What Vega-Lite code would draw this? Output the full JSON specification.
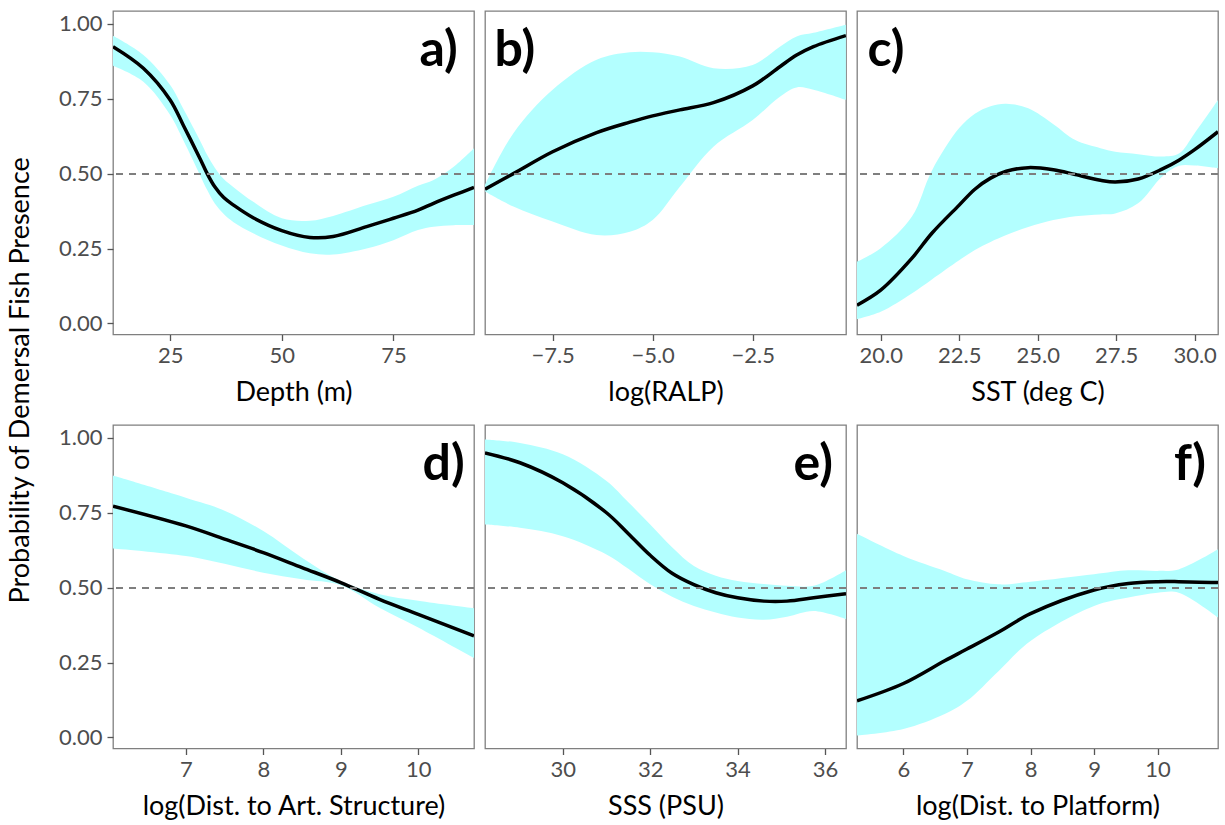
{
  "$schema": "https://vega.github.io/schema/vega-lite/v6.json",
  "background": "white",
  "padding": {"left": 5, "top": 10, "right": 5, "bottom": 5},
  "datasets": {
    "A": [
      {"x": 12.2, "lo": 0.860, "fit": 0.924, "hi": 0.960},
      {"x": 19.0, "lo": 0.807, "fit": 0.852, "hi": 0.896},
      {"x": 25.0, "lo": 0.696, "fit": 0.746, "hi": 0.796},
      {"x": 28.0, "lo": 0.610, "fit": 0.660, "hi": 0.715},
      {"x": 31.7, "lo": 0.495, "fit": 0.550, "hi": 0.610},
      {"x": 33.3, "lo": 0.445, "fit": 0.500, "hi": 0.562},
      {"x": 35.0, "lo": 0.400, "fit": 0.456, "hi": 0.520},
      {"x": 37.0, "lo": 0.365, "fit": 0.420, "hi": 0.482},
      {"x": 39.2, "lo": 0.338, "fit": 0.395, "hi": 0.455},
      {"x": 43.7, "lo": 0.300, "fit": 0.352, "hi": 0.405},
      {"x": 50.0, "lo": 0.260, "fit": 0.310, "hi": 0.351},
      {"x": 56.3, "lo": 0.234, "fit": 0.287, "hi": 0.343},
      {"x": 61.5, "lo": 0.230, "fit": 0.290, "hi": 0.359},
      {"x": 69.0, "lo": 0.250, "fit": 0.323, "hi": 0.395},
      {"x": 75.0, "lo": 0.278, "fit": 0.351, "hi": 0.423},
      {"x": 80.5, "lo": 0.312, "fit": 0.378, "hi": 0.460},
      {"x": 84.0, "lo": 0.323, "fit": 0.401, "hi": 0.479},
      {"x": 88.5, "lo": 0.328, "fit": 0.428, "hi": 0.523},
      {"x": 93.05, "lo": 0.328, "fit": 0.454, "hi": 0.585}
    ],
    "B": [
      {"x": -9.19, "lo": 0.440, "fit": 0.448, "hi": 0.462},
      {"x": -8.48, "lo": 0.390, "fit": 0.500, "hi": 0.635},
      {"x": -7.5, "lo": 0.340, "fit": 0.573, "hi": 0.780},
      {"x": -6.4, "lo": 0.295, "fit": 0.637, "hi": 0.880},
      {"x": -5.57, "lo": 0.306, "fit": 0.672, "hi": 0.905},
      {"x": -5.0, "lo": 0.345, "fit": 0.693, "hi": 0.905},
      {"x": -4.32, "lo": 0.456, "fit": 0.713, "hi": 0.891},
      {"x": -3.48, "lo": 0.590, "fit": 0.737, "hi": 0.852},
      {"x": -2.5, "lo": 0.679, "fit": 0.793, "hi": 0.863},
      {"x": -1.82, "lo": 0.757, "fit": 0.857, "hi": 0.924},
      {"x": -1.4, "lo": 0.788, "fit": 0.896, "hi": 0.958},
      {"x": -0.98, "lo": 0.780, "fit": 0.924, "hi": 0.970},
      {"x": -0.17, "lo": 0.746, "fit": 0.961, "hi": 0.997}
    ],
    "C": [
      {"x": 19.245, "lo": 0.014, "fit": 0.061, "hi": 0.206},
      {"x": 20.0, "lo": 0.039, "fit": 0.111, "hi": 0.251},
      {"x": 20.99, "lo": 0.100, "fit": 0.217, "hi": 0.356},
      {"x": 21.63, "lo": 0.147, "fit": 0.301, "hi": 0.510},
      {"x": 22.5, "lo": 0.211, "fit": 0.395, "hi": 0.652},
      {"x": 23.0, "lo": 0.245, "fit": 0.448, "hi": 0.700},
      {"x": 23.5, "lo": 0.272, "fit": 0.485, "hi": 0.725},
      {"x": 24.0, "lo": 0.295, "fit": 0.508, "hi": 0.733},
      {"x": 24.7, "lo": 0.322, "fit": 0.520, "hi": 0.718},
      {"x": 25.5, "lo": 0.345, "fit": 0.513, "hi": 0.665},
      {"x": 26.2, "lo": 0.358, "fit": 0.497, "hi": 0.612},
      {"x": 27.0, "lo": 0.364, "fit": 0.478, "hi": 0.585},
      {"x": 27.47, "lo": 0.367, "fit": 0.472, "hi": 0.573},
      {"x": 28.2, "lo": 0.401, "fit": 0.482, "hi": 0.565},
      {"x": 28.96, "lo": 0.490, "fit": 0.515, "hi": 0.557},
      {"x": 29.5, "lo": 0.526, "fit": 0.545, "hi": 0.567},
      {"x": 30.0, "lo": 0.527, "fit": 0.580, "hi": 0.635},
      {"x": 30.745, "lo": 0.518, "fit": 0.640, "hi": 0.746}
    ],
    "D": [
      {"x": 6.06, "lo": 0.631, "fit": 0.772, "hi": 0.874},
      {"x": 7.0, "lo": 0.606, "fit": 0.706, "hi": 0.800},
      {"x": 7.5, "lo": 0.580, "fit": 0.662, "hi": 0.757},
      {"x": 8.0, "lo": 0.550, "fit": 0.617, "hi": 0.689},
      {"x": 8.5, "lo": 0.528, "fit": 0.567, "hi": 0.600},
      {"x": 9.0, "lo": 0.508, "fit": 0.517, "hi": 0.522},
      {"x": 9.5, "lo": 0.433, "fit": 0.461, "hi": 0.478},
      {"x": 10.0, "lo": 0.367, "fit": 0.411, "hi": 0.456},
      {"x": 10.72, "lo": 0.265, "fit": 0.339, "hi": 0.431}
    ],
    "E": [
      {"x": 28.22, "lo": 0.711, "fit": 0.950, "hi": 0.995},
      {"x": 29.02, "lo": 0.700, "fit": 0.917, "hi": 0.983},
      {"x": 30.0, "lo": 0.672, "fit": 0.850, "hi": 0.945},
      {"x": 31.0, "lo": 0.611, "fit": 0.750, "hi": 0.856},
      {"x": 31.5, "lo": 0.563, "fit": 0.680, "hi": 0.785},
      {"x": 32.0, "lo": 0.511, "fit": 0.608, "hi": 0.711},
      {"x": 32.5, "lo": 0.470, "fit": 0.548, "hi": 0.635},
      {"x": 33.0, "lo": 0.439, "fit": 0.510, "hi": 0.572},
      {"x": 33.5, "lo": 0.417, "fit": 0.483, "hi": 0.540},
      {"x": 34.0, "lo": 0.400, "fit": 0.466, "hi": 0.522},
      {"x": 34.6, "lo": 0.393, "fit": 0.455, "hi": 0.512},
      {"x": 35.13, "lo": 0.403, "fit": 0.455, "hi": 0.506},
      {"x": 35.74, "lo": 0.422, "fit": 0.466, "hi": 0.506},
      {"x": 36.48, "lo": 0.395, "fit": 0.480, "hi": 0.558}
    ],
    "F": [
      {"x": 5.27, "lo": 0.006, "fit": 0.122, "hi": 0.680},
      {"x": 6.0, "lo": 0.028, "fit": 0.180, "hi": 0.606},
      {"x": 6.65, "lo": 0.078, "fit": 0.256, "hi": 0.556},
      {"x": 7.0, "lo": 0.122, "fit": 0.295, "hi": 0.528},
      {"x": 7.5, "lo": 0.222, "fit": 0.352, "hi": 0.511},
      {"x": 8.0, "lo": 0.322, "fit": 0.413, "hi": 0.520},
      {"x": 9.0, "lo": 0.439, "fit": 0.492, "hi": 0.545},
      {"x": 9.54, "lo": 0.467, "fit": 0.514, "hi": 0.558},
      {"x": 10.0, "lo": 0.483, "fit": 0.520, "hi": 0.556},
      {"x": 10.33, "lo": 0.483, "fit": 0.520, "hi": 0.561},
      {"x": 10.95, "lo": 0.400, "fit": 0.517, "hi": 0.628}
    ]
  },
  "columns": 3,
  "bounds": "flush",
  "spacing": {"row": 90, "column": 11},
  "concat": [
    {
      "width": 361, "height": 323.5,
      "data": {"name": "A"},
      "layer": [
        {"mark": {"type": "area", "color": "#b3ffff", "interpolate": "catmull-rom", "clip": true},
         "encoding": {
           "x": {"field": "x", "type": "quantitative", "scale": {"domain": [12.2, 93.05], "nice": false, "zero": false},
                 "axis": {"title": "Depth (m)", "values": [25, 50, 75], "format": "d"}},
           "y": {"field": "lo", "type": "quantitative", "scale": {"domain": [-0.037, 1.043], "nice": false, "zero": false},
                 "axis": {"title": "Probability of Demersal Fish Presence", "values": [0, 0.25, 0.5, 0.75, 1], "format": ".2f", "titleX": -79, "titleY": 368.8}},
           "y2": {"field": "hi"}}},
        {"mark": {"type": "line", "color": "black", "strokeWidth": 3.5, "interpolate": "catmull-rom", "clip": true},
         "encoding": {"x": {"field": "x", "type": "quantitative"}, "y": {"field": "fit", "type": "quantitative"}}},
        {"mark": {"type": "rule", "color": "#7f7f7f", "strokeWidth": 1.5, "strokeDash": [7, 6]},
         "encoding": {"y": {"datum": 0.5, "type": "quantitative"}}},
        {"data": {"values": [{"label": "a)"}]},
         "mark": {"type": "text", "font": "Lato", "fontSize": 50, "fontWeight": "bold", "align": "right", "baseline": "alphabetic", "color": "black"},
         "encoding": {"x": {"datum": 89.4, "type": "quantitative"}, "y": {"datum": 0.86, "type": "quantitative"}, "text": {"field": "label"}}}
      ]
    },
    {
      "width": 361, "height": 323.5,
      "data": {"name": "B"},
      "layer": [
        {"mark": {"type": "area", "color": "#b3ffff", "interpolate": "catmull-rom", "clip": true},
         "encoding": {
           "x": {"field": "x", "type": "quantitative", "scale": {"domain": [-9.19, -0.167], "nice": false, "zero": false},
                 "axis": {"title": "log(RALP)", "values": [-7.5, -5, -2.5], "format": ".1f"}},
           "y": {"field": "lo", "type": "quantitative", "scale": {"domain": [-0.037, 1.043], "nice": false, "zero": false}, "axis": null},
           "y2": {"field": "hi"}}},
        {"mark": {"type": "line", "color": "black", "strokeWidth": 3.5, "interpolate": "catmull-rom", "clip": true},
         "encoding": {"x": {"field": "x", "type": "quantitative"}, "y": {"field": "fit", "type": "quantitative"}}},
        {"mark": {"type": "rule", "color": "#7f7f7f", "strokeWidth": 1.5, "strokeDash": [7, 6]},
         "encoding": {"y": {"datum": 0.5, "type": "quantitative"}}},
        {"data": {"values": [{"label": "b)"}]},
         "mark": {"type": "text", "font": "Lato", "fontSize": 50, "fontWeight": "bold", "align": "left", "baseline": "alphabetic", "color": "black"},
         "encoding": {"x": {"datum": -8.95, "type": "quantitative"}, "y": {"datum": 0.86, "type": "quantitative"}, "text": {"field": "label"}}}
      ]
    },
    {
      "width": 361, "height": 323.5,
      "data": {"name": "C"},
      "layer": [
        {"mark": {"type": "area", "color": "#b3ffff", "interpolate": "catmull-rom", "clip": true},
         "encoding": {
           "x": {"field": "x", "type": "quantitative", "scale": {"domain": [19.245, 30.745], "nice": false, "zero": false},
                 "axis": {"title": "SST (deg C)", "values": [20, 22.5, 25, 27.5, 30], "format": ".1f"}},
           "y": {"field": "lo", "type": "quantitative", "scale": {"domain": [-0.037, 1.043], "nice": false, "zero": false}, "axis": null},
           "y2": {"field": "hi"}}},
        {"mark": {"type": "line", "color": "black", "strokeWidth": 3.5, "interpolate": "catmull-rom", "clip": true},
         "encoding": {"x": {"field": "x", "type": "quantitative"}, "y": {"field": "fit", "type": "quantitative"}}},
        {"mark": {"type": "rule", "color": "#7f7f7f", "strokeWidth": 1.5, "strokeDash": [7, 6]},
         "encoding": {"y": {"datum": 0.5, "type": "quantitative"}}},
        {"data": {"values": [{"label": "c)"}]},
         "mark": {"type": "text", "font": "Lato", "fontSize": 50, "fontWeight": "bold", "align": "left", "baseline": "alphabetic", "color": "black"},
         "encoding": {"x": {"datum": 19.58, "type": "quantitative"}, "y": {"datum": 0.86, "type": "quantitative"}, "text": {"field": "label"}}}
      ]
    },
    {
      "width": 361, "height": 323.5,
      "data": {"name": "D"},
      "layer": [
        {"mark": {"type": "area", "color": "#b3ffff", "interpolate": "catmull-rom", "clip": true},
         "encoding": {
           "x": {"field": "x", "type": "quantitative", "scale": {"domain": [6.06, 10.72], "nice": false, "zero": false},
                 "axis": {"title": "log(Dist. to Art. Structure)", "values": [7, 8, 9, 10], "format": "d"}},
           "y": {"field": "lo", "type": "quantitative", "scale": {"domain": [-0.037, 1.043], "nice": false, "zero": false},
                 "axis": {"title": null, "values": [0, 0.25, 0.5, 0.75, 1], "format": ".2f"}},
           "y2": {"field": "hi"}}},
        {"mark": {"type": "line", "color": "black", "strokeWidth": 3.5, "interpolate": "catmull-rom", "clip": true},
         "encoding": {"x": {"field": "x", "type": "quantitative"}, "y": {"field": "fit", "type": "quantitative"}}},
        {"mark": {"type": "rule", "color": "#7f7f7f", "strokeWidth": 1.5, "strokeDash": [7, 6]},
         "encoding": {"y": {"datum": 0.5, "type": "quantitative"}}},
        {"data": {"values": [{"label": "d)"}]},
         "mark": {"type": "text", "font": "Lato", "fontSize": 50, "fontWeight": "bold", "align": "right", "baseline": "alphabetic", "color": "black"},
         "encoding": {"x": {"datum": 10.6, "type": "quantitative"}, "y": {"datum": 0.86, "type": "quantitative"}, "text": {"field": "label"}}}
      ]
    },
    {
      "width": 361, "height": 323.5,
      "data": {"name": "E"},
      "layer": [
        {"mark": {"type": "area", "color": "#b3ffff", "interpolate": "catmull-rom", "clip": true},
         "encoding": {
           "x": {"field": "x", "type": "quantitative", "scale": {"domain": [28.22, 36.48], "nice": false, "zero": false},
                 "axis": {"title": "SSS (PSU)", "values": [30, 32, 34, 36], "format": "d"}},
           "y": {"field": "lo", "type": "quantitative", "scale": {"domain": [-0.037, 1.043], "nice": false, "zero": false}, "axis": null},
           "y2": {"field": "hi"}}},
        {"mark": {"type": "line", "color": "black", "strokeWidth": 3.5, "interpolate": "catmull-rom", "clip": true},
         "encoding": {"x": {"field": "x", "type": "quantitative"}, "y": {"field": "fit", "type": "quantitative"}}},
        {"mark": {"type": "rule", "color": "#7f7f7f", "strokeWidth": 1.5, "strokeDash": [7, 6]},
         "encoding": {"y": {"datum": 0.5, "type": "quantitative"}}},
        {"data": {"values": [{"label": "e)"}]},
         "mark": {"type": "text", "font": "Lato", "fontSize": 50, "fontWeight": "bold", "align": "right", "baseline": "alphabetic", "color": "black"},
         "encoding": {"x": {"datum": 36.18, "type": "quantitative"}, "y": {"datum": 0.86, "type": "quantitative"}, "text": {"field": "label"}}}
      ]
    },
    {
      "width": 361, "height": 323.5,
      "data": {"name": "F"},
      "layer": [
        {"mark": {"type": "area", "color": "#b3ffff", "interpolate": "catmull-rom", "clip": true},
         "encoding": {
           "x": {"field": "x", "type": "quantitative", "scale": {"domain": [5.27, 10.95], "nice": false, "zero": false},
                 "axis": {"title": "log(Dist. to Platform)", "values": [6, 7, 8, 9, 10], "format": "d"}},
           "y": {"field": "lo", "type": "quantitative", "scale": {"domain": [-0.037, 1.043], "nice": false, "zero": false}, "axis": null},
           "y2": {"field": "hi"}}},
        {"mark": {"type": "line", "color": "black", "strokeWidth": 3.5, "interpolate": "catmull-rom", "clip": true},
         "encoding": {"x": {"field": "x", "type": "quantitative"}, "y": {"field": "fit", "type": "quantitative"}}},
        {"mark": {"type": "rule", "color": "#7f7f7f", "strokeWidth": 1.5, "strokeDash": [7, 6]},
         "encoding": {"y": {"datum": 0.5, "type": "quantitative"}}},
        {"data": {"values": [{"label": "f)"}]},
         "mark": {"type": "text", "font": "Lato", "fontSize": 50, "fontWeight": "bold", "align": "right", "baseline": "alphabetic", "color": "black"},
         "encoding": {"x": {"datum": 10.76, "type": "quantitative"}, "y": {"datum": 0.86, "type": "quantitative"}, "text": {"field": "label"}}}
      ]
    }
  ],
  "config": {
    "font": "Lato",
    "view": {"stroke": "#7f7f7f", "strokeWidth": 1.3},
    "axis": {
      "grid": false, "domain": false,
      "tickColor": "#555555", "tickSize": 6, "tickWidth": 1.3,
      "labelFont": "Lato", "labelFontSize": 22, "labelColor": "#4d4d4d", "labelPadding": 5,
      "labelFlush": false, "labelOverlap": false,
      "titleFont": "Lato", "titleFontSize": 27, "titleFontWeight": "normal", "titleColor": "black", "titlePadding": 13
    }
  }
}
